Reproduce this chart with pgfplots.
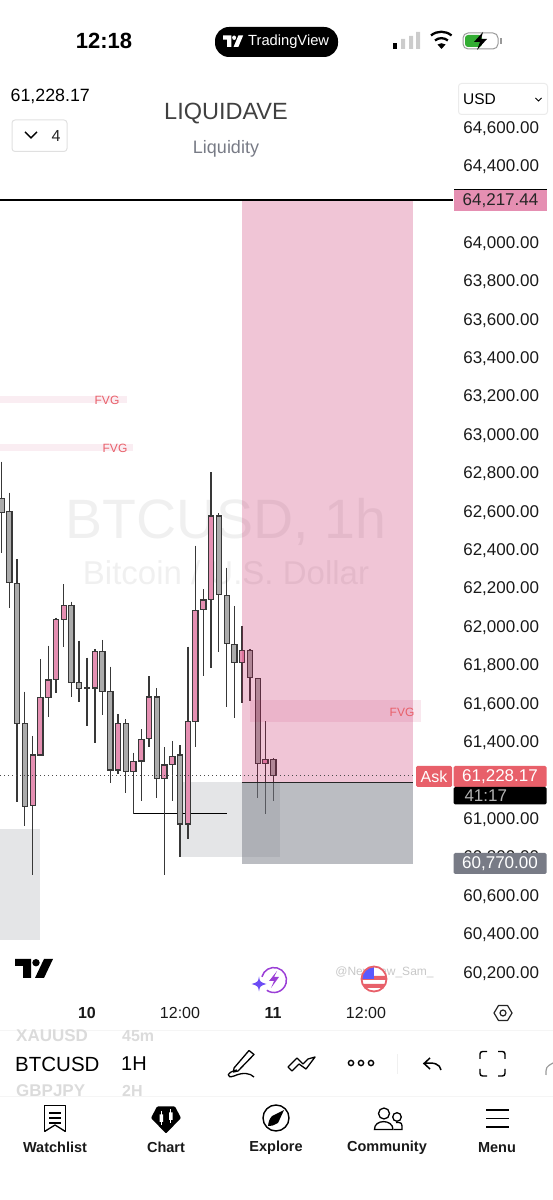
\documentclass[border=0pt]{standalone}
\usepackage{pgfplots}
\usepackage{fontspec}
\setmainfont{Liberation Sans}
\pgfplotsset{compat=1.18}
\definecolor{uppink}{HTML}{E58FB2}
\definecolor{dngray}{HTML}{ABABAB}
\definecolor{edge}{HTML}{383838}
\definecolor{tvgray}{HTML}{787B86}
\definecolor{tvpink}{HTML}{C2185B}
\definecolor{tvred}{HTML}{E8606A}
\definecolor{boltviolet}{HTML}{9B3FD6}
\definecolor{starviolet}{HTML}{6C4CF5}
\newcommand\fs[1]{\fontsize{#1}{#1}\selectfont}
% x, open, high, low, close: wick, then body
\newcommand\candle[6]{%
  \pgfmathsetmacro\xa{#1-2.6}\pgfmathsetmacro\xb{#1+2.6}%
  \addplot[draw=edge,line width=1.5pt] coordinates {(#1,#3)(#1,#4)};
  \addplot[draw=edge,line width=1.2pt,fill=#6] coordinates {(\xa,#2)(\xb,#2)(\xb,#5)(\xa,#5)} --cycle;}
\newcommand\up[5]{\candle{#1}{#2}{#3}{#4}{#5}{uppink}}
\newcommand\dn[5]{\candle{#1}{#2}{#3}{#4}{#5}{dngray}}
% x1, x2, price1, price2, style
\newcommand\zone[5]{\addplot[draw=none,#5] coordinates {(#1,#3)(#2,#3)(#2,#4)(#1,#4)} --cycle;}
\newcommand\tvlogo{%
  \fill (0,0) -- (16,0) -- (16,19) -- (8,19) -- (8,7) -- (0,7) -- cycle;
  \fill (21,3.7) circle (3.7);
  \fill (29,0) -- (38,0) -- (29,19) -- (20,19) -- cycle;}
\begin{document}
\begin{tikzpicture}
\useasboundingbox (0,0) rectangle (553pt,1200pt);
% watermark, under the candles
\begin{scope}[x=1pt,y=-1pt,yshift=1200pt]
\node[text=black!6,font=\fs{55.5}] at (226,522) {BTCUSD, 1h};
\node[text=black!6,font=\fs{33}] at (226,573) {Bitcoin / U.S. Dollar};
\end{scope}
\begin{axis}[
  at={(0,0)}, anchor=south west,
  scale only axis, width=553pt, height=1200pt,
  xmin=0, xmax=553, ymin=59012.9, ymax=65261.3,
  axis line style={draw=none}, tick style={draw=none},
  scaled y ticks=false,
  ytick={60200,60400,60600,60800,61000,61400,61600,61800,62000,62200,62400,62600,62800,63000,63200,63400,63600,63800,64000,64400,64600},
  yticklabel style={anchor=east,xshift=542.5pt,yshift=-1.2pt,font=\fs{17},text=black!90,
    /pgf/number format/fixed,/pgf/number format/fixed zerofill,/pgf/number format/precision=2,/pgf/number format/1000 sep={,},/pgf/number format/assume math mode=true},
  xtick={87,180,273,366},
  xticklabels={\textbf{10},12:00,\textbf{11},12:00},
  xticklabel style={anchor=center,yshift=187pt,font=\fs{16},text=black!90},
  clip=false,
]
% order blocks
\zone{0}{40}{60945}{60367}{fill=tvgray,opacity=.2}
\zone{181}{280}{61189}{60799}{fill=tvgray,opacity=.2}
\zone{0}{127}{63199}{63163}{fill=tvpink,opacity=.08}
\zone{0}{133}{62949}{62913}{fill=tvpink,opacity=.08}
\node[text=tvred,font=\fs{12}] at (axis cs:107,63176) {FVG};
\node[text=tvred,font=\fs{12}] at (axis cs:115,62926) {FVG};
\addplot[black,line width=1pt] coordinates {(133,61023)(227,61023)};
% candles
\dn{1.7}{62667}{62857}{62380}{62594}
\dn{9.3}{62597}{62696}{62094}{62227}
\dn{17}{62224}{62349}{61084}{61495}
\dn{24.7}{61495}{61660}{60962}{61061}
\up{32.7}{61066}{61429}{60705}{61330}
\up{40.3}{61330}{61831}{61330}{61628}
\up{48.3}{61630}{61899}{61529}{61721}
\up{56}{61722}{62045}{61651}{62037}
\up{63.7}{62037}{62219}{61894}{62109}
\dn{71.3}{62109}{62128}{61630}{61706}
\dn{79}{61708}{61925}{61607}{61677}
\dn{87}{61679}{61837}{61481}{61675}
\up{95}{61679}{61882}{61394}{61870}
\dn{102.3}{61870}{61929}{61538}{61662}
\dn{110.3}{61662}{61790}{61186}{61252}
\up{118}{61252}{61542}{61229}{61495}
\dn{125.7}{61495}{61516}{61134}{61243}
\up{133.3}{61243}{61342}{61021}{61295}
\up{141.3}{61299}{61464}{61090}{61410}
\up{149}{61415}{61741}{61373}{61632}
\dn{156.7}{61632}{61677}{61105}{61207}
\up{164.3}{61207}{61370}{60703}{61278}
\up{172.3}{61282}{61403}{61090}{61321}
\dn{180}{61330}{61382}{60797}{60971}
\up{188}{60971}{61894}{60894}{61503}
\up{195.3}{61505}{62420}{61373}{62083}
\up{203.3}{62089}{62193}{61743}{62137}
\up{211}{62141}{62802}{61781}{62574}
\dn{218.7}{62574}{62588}{61865}{62165}
\dn{226.7}{62161}{62305}{61581}{61911}
\dn{234.3}{61906}{62107}{61521}{61813}
\up{242}{61813}{62002}{61599}{61873}
\dn{250}{61873}{61882}{61613}{61732}
\dn{257.7}{61729}{61731}{61104}{61287}
\up{265.3}{61287}{61507}{61021}{61308}
\dn{273.3}{61308}{61313}{61092}{61222}
% position tool, over the candles
\zone{242}{413}{64217.44}{61189}{fill=tvpink,opacity=.25}
\zone{242}{413}{61189}{60760}{fill=tvgray,opacity=.5}
\zone{250}{421}{61616}{61502}{fill=tvpink,opacity=.1}
\node[text=tvred,font=\fs{12}] at (axis cs:402,61554) {FVG};
\addplot[black!85,line width=1pt] coordinates {(242,61189)(413,61189)};
\addplot[black!70,line width=.8pt,dash pattern=on 1pt off 3pt] coordinates {(0,61222)(452,61222)};
\addplot[black,line width=2pt] coordinates {(0,64217.44)(453,64217.44)};
\end{axis}
\begin{scope}[x=1pt,y=-1pt,yshift=1200pt]
% price tags
\fill[uppink] (454,190) rectangle (547,211);
\draw[black,line width=1.6pt] (454,189.5) -- (547,189.5);
\node[font=\fs{17},text=black!85] at (500.5,201) {64,217.44};
\fill[tvred,rounded corners=1.5pt] (416,766) rectangle (452,787);
\node[font=\fs{16},text=white] at (434,776.5) {Ask};
\fill[tvred,rounded corners=1.5pt] (453.5,766) rectangle (546.5,787);
\fill[black,rounded corners=1.5pt] (453.5,787) rectangle (546.5,804.5);
\node[font=\fs{17},text=white] at (500,776.5) {61,228.17};
\node[font=\fs{17},text=black!30,anchor=west] at (461,795.5) {41:17};
\fill[tvgray,rounded corners=1.5pt] (453.5,853) rectangle (546.5,874);
\node[font=\fs{17},text=white] at (500,863.5) {60,770.00};
% status bar
\node[font=\bfseries\fs{22}] at (104,40.5) {12:18};
\fill[black,rounded corners=14pt] (215,27) rectangle (338,57);
\begin{scope}[shift={(223,35.5)},x=.53pt,y=-.6pt,white]\tvlogo\end{scope}
\node[font=\fs{14.7},text=white,anchor=west,inner sep=0pt] at (248,42) {TradingView};
\fill[black] (393,43) rectangle (397,49);
\fill[black!20] (401,39) rectangle (405,49) (409,36) rectangle (413,49) (416,32) rectangle (420,49);
\draw[black,line width=2.3pt] (435,40.5) arc[start angle=-130,end angle=-50,radius=10];
\draw[black,line width=2.3pt] (431,35.5) arc[start angle=-130,end angle=-50,radius=16];
\fill[black] (441.5,49) -- (437.5,44.5) arc[start angle=-125,end angle=-55,radius=7] -- cycle;
\draw[black!40,line width=1pt,rounded corners=5pt] (463,33) rectangle (498,49);
\fill[green!60!black!80,rounded corners=3pt] (465,35) rectangle (482,47);
\fill[black] (483,32) -- (474,42) -- (480,42) -- (477,50) -- (487,39) -- (481,39) -- cycle;
\fill[black!40] (500,38) rectangle (501.5,44);
% study legend and currency
\node[font=\fs{17.8},anchor=west,inner sep=0pt] at (10.5,96) {61,228.17};
\draw[black!12,line width=1pt,rounded corners=3pt] (12,120) rectangle (67,151.5);
\draw[black,line width=1.4pt] (25,132) -- (31,138) -- (37,132);
\node[font=\fs{16},text=black!85] at (56,136) {4};
\node[font=\fs{23.5},text=black!75] at (226,113.5) {LIQUIDAVE};
\node[font=\fs{18},text=tvgray] at (226,148.5) {Liquidity};
\draw[black!8,line width=1pt,rounded corners=3pt] (458.5,83.5) rectangle (547.5,114.5);
\node[font=\fs{15.5},anchor=west,inner sep=0pt] at (463,99) {USD};
\draw[black,line width=1pt] (535.5,98) -- (538.5,101) -- (541.5,98);
% chart footer
\begin{scope}[shift={(15,959)},x=1pt,y=-1pt,black]\tvlogo\end{scope}
\draw[boltviolet,line width=1.5pt] (261.9,976.8) arc[start angle=-165,end angle=125,radius=12.5];
\fill[boltviolet] (277,971) -- (269,981) -- (274,981) -- (271,988) -- (279,977) -- (274,977) -- cycle;
\fill[starviolet] (259,976.5) .. controls (260,982) .. (266.5,984) .. controls (260,986) .. (259,991.5) .. controls (258,986) .. (251.5,984) .. controls (258,982) .. cycle;
\node[font=\fs{12},text=black!22] at (384.5,972) {@NewNew\_Sam\_};
\fill[white] (374,979) circle (13);
\begin{scope}
\clip (374,979) circle (12);
\fill[white] (360,966) rectangle (388,992);
\fill[tvred] (360,976) rectangle (388,980) (360,984) rectangle (388,988);
\fill[blue!65!white] (360,966) rectangle (374,979);
\end{scope}
\draw[tvred,line width=1.8pt] (374,979) circle (12.5);
\draw[black!85,line width=1.2pt,line join=round] (494,1013) -- (498.5,1005.5) -- (507.5,1005.5) -- (512,1013) -- (507.5,1020.5) -- (498.5,1020.5) -- cycle;
\draw[black!85,line width=1.2pt] (503,1013) circle (3);
% symbol and interval wheel
\draw[black!4,line width=.8pt] (0,1030) -- (553,1030) (0,1096) -- (553,1096);
\node[font=\bfseries\fs{17},text=black!14,anchor=west,inner sep=0pt] at (16,1036) {XAUUSD};
\node[font=\bfseries\fs{16},text=black!14,anchor=west,inner sep=0pt] at (122,1036) {45m};
\node[font=\fs{20.5},anchor=west,inner sep=0pt] at (15,1064) {BTCUSD};
\node[font=\fs{20},anchor=west,inner sep=0pt] at (121,1064) {1H};
\node[font=\bfseries\fs{17},text=black!14,anchor=west,inner sep=0pt] at (16,1091) {GBPJPY};
\node[font=\bfseries\fs{16},text=black!14,anchor=west,inner sep=0pt] at (122,1091) {2H};
% drawing toolbar
\draw[black,line width=1.3pt,line join=round] (234,1068) -- (249,1050.5) -- (254,1054.5) -- (238,1071) -- (233.5,1072) -- cycle;
\draw[black,line width=1.3pt] (237,1070) .. controls (226,1072) and (226,1079) .. (234,1076) .. controls (243,1072) and (250,1073) .. (254,1077);
\draw[black,line width=1.3pt,line join=round] (288,1067) -- (297,1058) -- (303,1064) -- (308,1059) -- (315,1057) -- (306,1069) -- (299,1064) -- (292,1071) -- cycle;
\draw[black,line width=1.4pt] (351,1063) circle (2.6) (361,1063) circle (2.6) (371,1063) circle (2.6);
\draw[black!6,line width=1pt] (397,1054) -- (397,1074);
\draw[black,line width=1.5pt] (430,1058) -- (424,1063.5) -- (430,1069) (424,1063.5) .. controls (434,1062) and (440,1064) .. (441,1070);
\draw[black,line width=1.4pt,rounded corners=2.5pt] (480,1059) -- (480,1051.5) -- (487,1051.5) (498,1051.5) -- (505,1051.5) -- (505,1059) (505,1069) -- (505,1076) -- (498,1076) (487,1076) -- (480,1076) -- (480,1069);
\draw[black!40,line width=1.2pt] (546,1075) .. controls (546,1067) .. (553,1063);
% bottom navigation
\draw[black,line width=1.3pt,line join=round] (44.5,1105.5) rectangle (65.5,1131) ;
\fill[white] (45.2,1131.8) -- (55,1125.5) -- (64.8,1131.8) -- cycle;
\draw[black,line width=1.3pt,line join=round] (44.5,1131.5) -- (55,1125) -- (65.5,1131.5);
\draw[black,line width=1.2pt] (49,1113) -- (61,1113) (49,1118) -- (61,1118) (49,1123) -- (61,1123);
\fill[black,rounded corners=1pt] (157,1106.5) -- (175,1106.5) -- (181,1118) -- (166,1133.5) -- (151,1118) -- cycle;
\fill[white] (159.5,1114.5) rectangle (163,1122) (169,1112.5) rectangle (172.5,1120);
\draw[white,line width=.9pt] (161.2,1111.5) -- (161.2,1125) (170.7,1109.5) -- (170.7,1123);
\draw[black,line width=1.4pt] (276,1118) circle (13);
\fill[black] (284,1110) -- (278,1123) .. controls (272,1126) .. (268,1126) .. controls (269,1120) .. (272,1116) -- cycle;
\draw[black,line width=1.3pt] (374.5,1129.5) .. controls (374,1119) and (393,1119) .. (393,1129.5) -- cycle;
\draw[black,line width=1.3pt] (384,1113.5) circle (5.5);
\draw[black,line width=1.3pt] (397,1117) circle (4.3);
\draw[black,line width=1.3pt] (396,1122.5) .. controls (402,1122.5) .. (402,1129.5) -- (394,1129.5);
\draw[black,line width=1.4pt] (486,1110) -- (509,1110) (486,1118.5) -- (509,1118.5) (486,1127) -- (509,1127);
\foreach \xc/\lab in {55/Watchlist,166/Chart,276/Explore,387/Community,497/Menu}
  \node[font=\fs{14.5},text=black!90] at (\xc,1147.5) {\textbf{\lab}};
\end{scope}
\end{tikzpicture}
\end{document}
